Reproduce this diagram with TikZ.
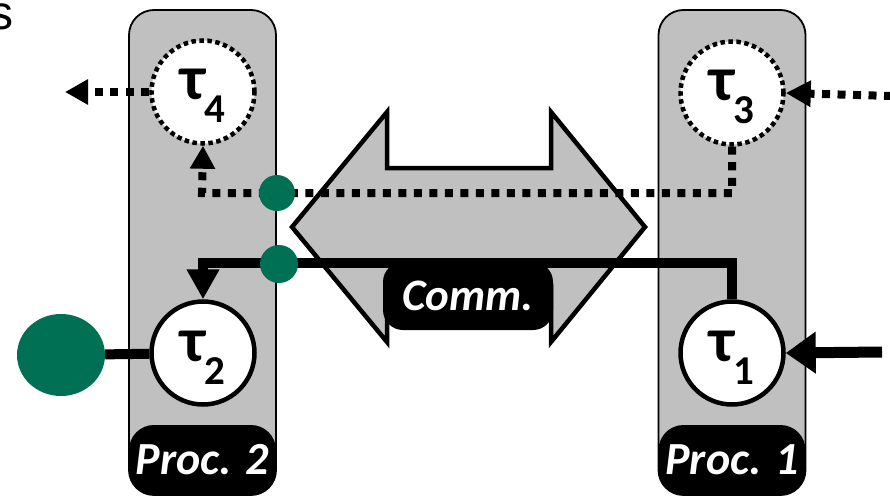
\documentclass[tikz,border=0pt]{standalone}
\usepackage{fontspec}
\setmainfont{Carlito}
\newfontfamily\arialfont{Liberation Sans}
\usetikzlibrary{arrows.meta,shapes.geometric}
\definecolor{procgray}{RGB}{192,192,192}
\definecolor{busgreen}{RGB}{0,112,84}
% task label: tau with a large subscript index
\newcommand\tasklabel[1]{\raisebox{0pt}[40pt][24pt]{\bfseries\fontsize{63}{63}\selectfont τ\raisebox{-23pt}{\fontsize{41}{41}\selectfont #1}}}
\begin{document}
\begin{tikzpicture}[x=1pt,y=-1pt,
  procbox/.style={draw=black, line width=1.8pt, fill=procgray, rounded corners=25pt,
    minimum width=147pt, minimum height=485pt, inner sep=0pt},
  proctag/.style={fill=black, rounded corners=25pt, minimum width=147pt, minimum height=70pt,
    inner sep=0pt, text=white, font=\bfseries\itshape\fontsize{46}{46}\selectfont},
  commtag/.style={fill=black, rounded corners=20pt, minimum width=170pt, minimum height=68pt,
    inner sep=0pt, text=white, font=\bfseries\itshape\fontsize{45}{45}\selectfont},
  task/.style={circle, draw=black, line width=4.5pt, fill=white, minimum size=103pt, inner sep=0pt},
  spectask/.style={task, dash pattern=on 4.5pt off 3.5pt},
  link/.style={draw=black, line width=10pt},
  dotlink/.style={draw=black, line width=8pt, dash pattern=on 8pt off 7.5pt},
  port/.style={circle, fill=busgreen, inner sep=0pt},
  bigtip/.style={-{Triangle[width=31pt,length=30pt]}},
  smalltip/.style={-{Triangle[width=24pt,length=23pt]}}
]
\useasboundingbox (0,0) rectangle (890,497);
\clip (0,0) rectangle (890,497);

% stray letter at the top left edge
\node[font=\arialfont\fontsize{48}{48}\selectfont, anchor=base east, inner sep=0pt] (s) at (14,30) {s};

% processors
\node[procbox] (proc2) at (202.5,252.5) {};
\node[procbox] (proc1) at (732,252.5) {};
\node[proctag] (tag2) at (202.5,460) {Proc. 2};
\node[proctag] (tag1) at (732,460) {Proc. 1};

% communication medium
\filldraw[fill=procgray, draw=black, line width=4.5pt, line join=miter]
  (292,227) -- (387,112) -- (387,168) -- (551,168) -- (551,112) -- (645,227)
  -- (551,342) -- (551,286) -- (387,286) -- (387,342) -- cycle;

% tasks
\node[spectask] (t4) at (203,92) {\tasklabel{4}};
\node[spectask] (t3) at (732,93) {\tasklabel{3}};
\node[task] (t2) at (203,353) {\tasklabel{2}};
\node[task] (t1) at (732,353) {\tasklabel{1}};

% external ends
\node[ellipse, fill=busgreen, minimum width=88pt, minimum height=82pt, inner sep=0pt] (sink) at (61,355) {};
\coordinate (in1) at (882,352);
\coordinate (in3) at (892,96);
\coordinate (out4) at (65,92);
\coordinate (a1) at (732,263);
\coordinate (a2) at (203,263);
\coordinate (b1) at (732,193);
\coordinate (b2) at (202,193);

% solid message t1 -> t2
\draw[link, bigtip] (t1.north) -- (a1) -- (a2) -- (t2.north);
\node[commtag] (comm) at (468,296) {Comm.};
\draw[link] (sink) -- (t2);
\draw[draw=black, line width=11pt, -{Triangle[width=40pt,length=30pt]}] (in1) -- (t1.east);

% dotted message t3 -> t4
\draw[dotlink, smalltip] (t3.south) -- (b1) -- (b2) -- (t4.south);
\draw[dotlink, -{Triangle[width=25pt,length=25pt]}] (in3) -- (t3.east);
\draw[dotlink, smalltip] (t4.west) -- (out4);

% network ports
\node[port, minimum size=36pt] (p1) at (277,193) {};
\node[port, minimum size=38pt] (p2) at (279,264) {};
\end{tikzpicture}
\end{document}
